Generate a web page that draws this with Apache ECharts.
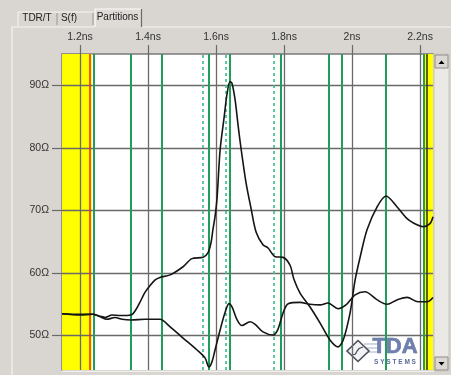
<!DOCTYPE html>
<html><head><meta charset="utf-8">
<script src="https://cdn.jsdelivr.net/npm/echarts@6/dist/echarts.min.js"></script>
<style>html,body{margin:0;padding:0;background:#d9d5d0}#c{width:451px;height:375px}</style>
</head><body><div id="c"></div>
<script>
const xTicks = [1.2, 1.4, 1.6, 1.8, 2, 2.2];
const yTicks = [50, 60, 70, 80, 90];
const tabLabels = ['TDR/T', 'S(f)', 'Partitions'];

const timeA = [1.147,1.2,1.238,1.259,1.274,1.294,1.318,1.35,1.365,1.376,1.391,1.406,1.421,1.435,1.465,1.503,1.529,1.562,1.576,1.585,1.591,1.597,1.603,1.612,1.624,1.632,1.641,1.647,1.656,1.665,1.674,1.688,1.703,1.718,1.738,1.753,1.774,1.797,1.818,1.829,1.847,1.876,1.906,1.935,1.959,1.974,1.994,2.009,2.024,2.044,2.074,2.1,2.132,2.162,2.191,2.209,2.229,2.238];
const ohmA = [53.5,53.4,53.4,53.1,52.9,53.3,53.2,53.3,54.2,55.3,56.9,58.0,58.9,59.3,59.7,61.0,62.3,62.5,63.2,64.8,67.0,69.0,72.0,79.7,85.0,88.5,90.6,90.3,87.7,83.5,79.7,74.5,70.3,66.5,64.5,64.0,62.6,62.5,61.2,59.0,56.8,54.6,52.0,49.3,48.2,49.3,53.6,58.9,62.6,66.9,70.6,72.3,70.6,68.7,67.7,67.4,67.9,69.0];

const timeB = [1.147,1.2,1.238,1.259,1.279,1.303,1.324,1.35,1.391,1.435,1.465,1.503,1.544,1.568,1.579,1.588,1.597,1.612,1.626,1.638,1.647,1.662,1.676,1.7,1.715,1.738,1.768,1.782,1.797,1.812,1.847,1.876,1.906,1.929,1.959,1.982,2.009,2.038,2.074,2.103,2.132,2.162,2.194,2.221,2.238];
const ohmB = [53.5,53.3,53.4,53.0,52.6,52.9,52.6,52.5,52.6,52.6,51.4,49.6,47.7,46.4,45.0,45.8,47.7,50.9,53.6,55.1,54.6,52.5,51.6,52.2,51.8,50.6,50.1,51.0,53.6,55.1,55.3,55.0,54.9,55.2,54.3,54.9,56.5,57.0,55.7,55.0,55.7,56.1,55.4,55.4,56.1];

const partitionSolid = [1.241, 1.352, 1.435, 1.579, 1.639, 1.794, 1.928, 1.965, 2.100, 2.212];
const partitionDashed = [1.565, 1.631, 1.769];
const markerRed = [1.2315];
const markerDark = [2.223];
const bandLeft = [1.147, 1.235];
const bandRight = [2.209, 2.238];
const xRange = [1.147, 2.238];
const yRange = [44.5, 95];

const zip = (t, v) => t.map((x, i) => [x, v[i]]);
const vLines = arr => arr.map(v => ({ xAxis: v }));
const FONT = 'Liberation Sans';

const chart = echarts.init(document.getElementById('c'), null, { renderer: 'canvas' });
chart.setOption({
  animation: false,
  backgroundColor: '#d9d5d0',
  grid: { left: 62, top: 54, right: 18, bottom: 5, show: true, backgroundColor: '#ffffff', borderWidth: 0 },
  xAxis: {
    type: 'value', position: 'top', min: xRange[0], max: xRange[1],
    axisLine: { show: true, lineStyle: { color: '#7a7a7a', width: 1.5 } },
    axisTick: { show: true, customValues: xTicks, length: 9, lineStyle: { color: '#6a6a6a', width: 1.2 } },
    axisLabel: { customValues: xTicks, formatter: v => v + 'ns', color: '#333', fontFamily: FONT, fontSize: 10.5, margin: 11 },
    splitLine: { show: false }
  },
  yAxis: {
    type: 'value', min: yRange[0], max: yRange[1],
    axisLine: { show: true, lineStyle: { color: '#7a7a7a', width: 1.5 } },
    axisTick: { show: true, customValues: yTicks, length: 10, lineStyle: { color: '#6a6a6a', width: 1.2 } },
    axisLabel: { customValues: yTicks, formatter: v => v + 'Ω', color: '#333', fontFamily: FONT, fontSize: 10.5, margin: 13 },
    splitLine: { show: false }
  },
  series: [
    { type: 'line', data: [], z: 1, silent: true,
      markArea: { silent: true, itemStyle: { color: '#ffff00', opacity: 1 },
        data: [[{ xAxis: bandLeft[0] }, { xAxis: bandLeft[1] }], [{ xAxis: bandRight[0] }, { xAxis: bandRight[1] }]] } },
    { type: 'line', data: [], z: 2, silent: true,
      markLine: { silent: true, symbol: 'none', label: { show: false },
        lineStyle: { color: '#6a6a6a', width: 1.3, type: 'solid' },
        data: vLines(xTicks).concat(yTicks.map(v => ({ yAxis: v }))) } },
    { type: 'line', data: [], z: 3, silent: true,
      markLine: { silent: true, symbol: 'none', label: { show: false },
        lineStyle: { color: '#1f9d5a', width: 2, type: 'solid' }, data: vLines(partitionSolid) } },
    { type: 'line', data: [], z: 3, silent: true,
      markLine: { silent: true, symbol: 'none', label: { show: false },
        lineStyle: { color: '#3db88c', width: 1.6, type: [3, 3] }, data: vLines(partitionDashed) } },
    { type: 'line', data: [], z: 4, silent: true,
      markLine: { silent: true, symbol: 'none', label: { show: false },
        lineStyle: { color: '#e8301c', width: 1.6, type: 'solid' }, data: vLines(markerRed) } },
    { type: 'line', data: [], z: 4, silent: true,
      markLine: { silent: true, symbol: 'none', label: { show: false },
        lineStyle: { color: '#3a3a10', width: 1.6, type: 'solid' }, data: vLines(markerDark) } },
    { type: 'line', data: zip(timeA, ohmA), z: 6, smooth: 0.3, symbol: 'none',
      lineStyle: { color: '#151515', width: 1.6 } },
    { type: 'line', data: zip(timeB, ohmB), z: 6, smooth: 0.3, symbol: 'none',
      lineStyle: { color: '#151515', width: 1.6 } }
  ],
  graphic: [
    { type: 'polyline', shape: { points: [[12, 375], [12, 27], [94, 27]] }, style: { stroke: '#f6f4f2', lineWidth: 1.2, fill: null } },
    { type: 'polyline', shape: { points: [[142, 27], [451, 27]] }, style: { stroke: '#f6f4f2', lineWidth: 1.2, fill: null } },
    { type: 'polyline', shape: { points: [[18, 26], [18, 12], [93, 12]] }, style: { stroke: '#f6f4f2', lineWidth: 1, fill: null } },
    { type: 'line', shape: { x1: 57, y1: 13, x2: 57, y2: 25 }, style: { stroke: '#9a9692', lineWidth: 1 } },
    { type: 'line', shape: { x1: 93, y1: 13, x2: 93, y2: 25 }, style: { stroke: '#9a9692', lineWidth: 1 } },
    { type: 'rect', shape: { x: 95, y: 9, width: 46, height: 19 }, style: { fill: '#dedad6' } },
    { type: 'polyline', shape: { points: [[95, 27], [95, 9], [141, 9]] }, style: { stroke: '#fbfaf9', lineWidth: 1.2, fill: null } },
    { type: 'line', shape: { x1: 141.5, y1: 9, x2: 141.5, y2: 27 }, style: { stroke: '#6e6a66', lineWidth: 1.2 } },
    { type: 'text', x: 37, y: 18, style: { text: tabLabels[0], fill: '#222', font: '10px ' + FONT, textAlign: 'center', textVerticalAlign: 'middle' } },
    { type: 'text', x: 69, y: 18, style: { text: tabLabels[1], fill: '#222', font: '10px ' + FONT, textAlign: 'center', textVerticalAlign: 'middle' } },
    { type: 'text', x: 117.5, y: 17, style: { text: tabLabels[2], fill: '#222', font: '10px ' + FONT, textAlign: 'center', textVerticalAlign: 'middle' } },
    { type: 'rect', shape: { x: 434, y: 54, width: 15, height: 317 }, style: { fill: '#ebe9e6', stroke: '#c8c4c0', lineWidth: 1 } },
    { type: 'rect', shape: { x: 435, y: 55, width: 13, height: 13 }, style: { fill: '#dcd8d4', stroke: '#8e8a86', lineWidth: 1 } },
    { type: 'polygon', shape: { points: [[438.5, 64], [444.5, 64], [441.5, 60.5]] }, style: { fill: '#000' } },
    { type: 'rect', shape: { x: 435, y: 357, width: 13, height: 13 }, style: { fill: '#dcd8d4', stroke: '#8e8a86', lineWidth: 1 } },
    { type: 'polygon', shape: { points: [[438.5, 362], [444.5, 362], [441.5, 365.5]] }, style: { fill: '#000' } },
    { type: 'rect', shape: { x: 62, y: 370, width: 372, height: 5 }, style: { fill: '#d9d5d0' } },
    { type: 'line', shape: { x1: 62, y1: 371.5, x2: 434, y2: 371.5 }, style: { stroke: '#f2f0ee', lineWidth: 1 } },
    { type: 'group', z: 100, children: [
      { type: 'line', shape: { x1: 364, y1: 344, x2: 378, y2: 344 }, style: { stroke: '#b5bdd6', lineWidth: 1.2 } },
      { type: 'line', shape: { x1: 366, y1: 348, x2: 378, y2: 348 }, style: { stroke: '#b5bdd6', lineWidth: 1.2 } },
      { type: 'line', shape: { x1: 366, y1: 352, x2: 378, y2: 352 }, style: { stroke: '#b5bdd6', lineWidth: 1.2 } },
      { type: 'polygon', shape: { points: [[358, 340.5], [369, 351], [358, 361.5], [347, 351]] }, style: { fill: '#f2f3f7', stroke: '#4d4f5c', lineWidth: 1.6 } },
      { type: 'polyline', shape: { points: [[352.5, 355], [355.5, 354], [357, 351], [359, 348.5], [363, 347]] }, style: { stroke: '#4d4f5c', lineWidth: 1.3, fill: null } },
      { type: 'text', x: 395, y: 357.5, style: { text: 'TDA', fill: '#6f7fae', stroke: '#55679a', lineWidth: 0.6, font: 'bold 22px ' + FONT, textAlign: 'center', textVerticalAlign: 'bottom' } },
      { type: 'text', x: 395, y: 362.5, style: { text: 'S Y S T E M S', fill: '#5d6e9e', font: 'bold 6.5px ' + FONT, textAlign: 'center', textVerticalAlign: 'middle' } }
    ] }
  ]
});
</script>
</body></html>
